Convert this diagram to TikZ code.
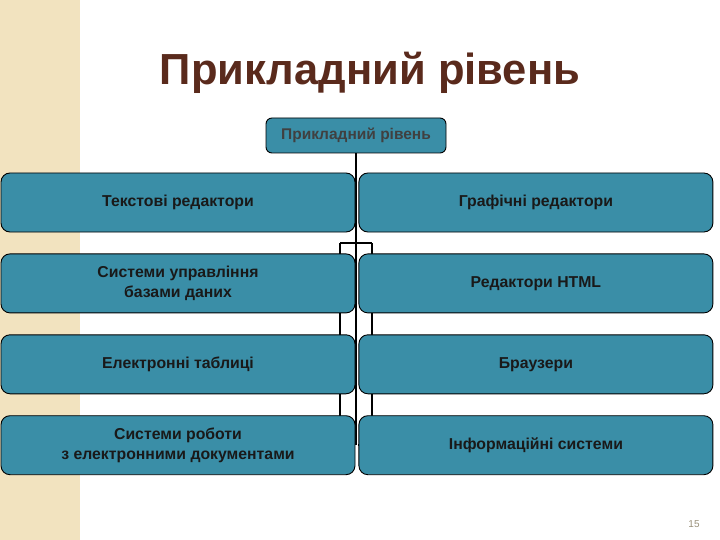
\documentclass[tikz,border=0pt]{standalone}
\usepackage{fontspec}
\setmainfont{Liberation Sans}
\usepackage{xcolor}
\usetikzlibrary{positioning,backgrounds}

\definecolor{boxteal}{HTML}{3A8EA7}
\definecolor{strip}{HTML}{F2E3BF}
\definecolor{titlebrown}{HTML}{5A2A1C}

\begin{document}
\begin{tikzpicture}[
    x=1pt, y=-1pt,
    node distance=21pt and 3pt,
    box/.style={draw, rectangle, rounded corners=9pt, align=center, fill=boxteal, line width=0.9pt, minimum width=354pt, minimum height=59pt, font=\bfseries\fontsize{15.8}{20}\selectfont, text=black!90},
    link/.style={line width=1.6pt}
]
\useasboundingbox (0,0) rectangle (720,540);
\fill[strip] (0,0) rectangle (80,540);

% Title
\node[font=\bfseries\fontsize{43.5}{48}\selectfont, text=titlebrown] (title) at (370,73) {Прикладний рівень};

% Top node
\node[box, minimum width=180pt, minimum height=35pt, rounded corners=6pt, text=black!75, font=\bfseries\fontsize{15.5}{18}\selectfont] (top) at (356,135.5) {Прикладний рівень};

% Left column
\node[box] (txt) at (178,202.5) {Текстові редактори};
\node[box, below=of txt] (dbms) {Системи управління\\ базами даних};
\node[box, below=of dbms] (sheet) {Електронні таблиці};
\node[box, below=of sheet] (docs) {Системи роботи\\ з електронними документами};

% Right column
\node[box, right=of txt] (graph) {Графічні редактори};
\node[box, below=of graph] (html) {Редактори HTML};
\node[box, below=of html] (brows) {Браузери};
\node[box, below=of brows] (info) {Інформаційні системи};

% Page number
\node[font=\fontsize{10}{12}\selectfont, text=black!30!strip!90!black] (pnum) at (694,524) {15};

% Connectors
\begin{scope}[on background layer]
\coordinate (jl) at (340,243);
\coordinate (jr) at (372,243);
\draw[link] (top.south) -- (top.south |- docs.center);
\draw[link] (jl) -- (jr);
\draw[link] (jl) |- (docs.east);
\draw[link] (jr) |- (info.west);
\end{scope}

\end{tikzpicture}
\end{document}
